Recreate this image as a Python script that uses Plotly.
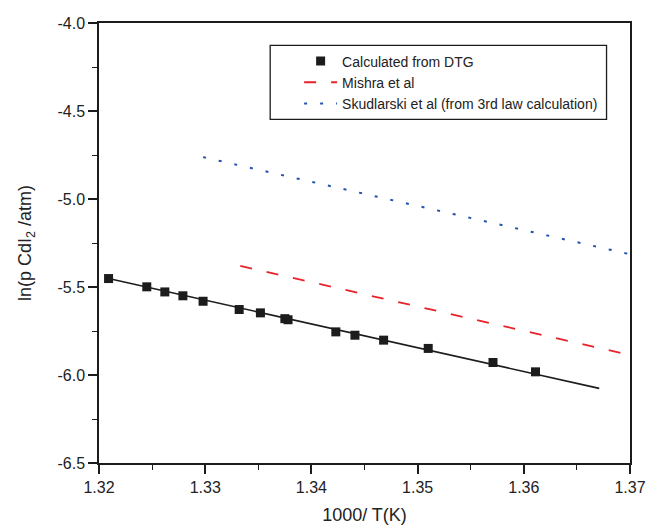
import plotly.graph_objects as go

# Calculated from DTG (points)
x_dtg = [1.3209, 1.3245, 1.3262, 1.3279, 1.3298, 1.3332, 1.3352, 1.3375, 1.3378,
         1.3423, 1.3441, 1.3468, 1.3510, 1.3571, 1.3611]
y_dtg = [-5.452, -5.499, -5.528, -5.550, -5.581, -5.628, -5.647, -5.680, -5.686,
         -5.755, -5.774, -5.802, -5.849, -5.929, -5.982]
x_fit = [1.3209, 1.3671]
y_fit = [-5.452, -6.076]
# Mishra et al
x_mishra = [1.3333, 1.3700]
y_mishra = [-5.380, -5.887]
# Skudlarski et al (3rd law)
x_skud = [1.3298, 1.3700]
y_skud = [-4.762, -5.314]

x_ticks = [1.32, 1.33, 1.34, 1.35, 1.36, 1.37]
y_ticks = [-4.0, -4.5, -5.0, -5.5, -6.0, -6.5]

FONT = "Liberation Sans, Arial, sans-serif"
INK = "#1c1c1c"

fig = go.Figure()
fig.add_trace(go.Scatter(x=x_fit, y=y_fit, mode="lines", showlegend=False,
                         line=dict(color=INK, width=1.6), hoverinfo="skip"))
fig.add_trace(go.Scatter(x=x_dtg, y=y_dtg, mode="markers", name="Calculated from DTG",
                         marker=dict(symbol="square", size=9, color=INK)))
fig.add_trace(go.Scatter(x=x_mishra, y=y_mishra, mode="lines", name="Mishra et al",
                         line=dict(color="#e8222a", width=1.8, dash="12px,15px")))
fig.add_trace(go.Scatter(x=x_skud, y=y_skud, mode="lines",
                         name="Skudlarski et al (from 3rd law calculation)",
                         line=dict(color="#2452b0", width=2, dash="3px,13px")))

axis_common = dict(showline=True, linecolor=INK, linewidth=1.5, mirror=True,
                   ticks="outside", ticklen=9, tickwidth=1.5, tickcolor=INK,
                   showgrid=False, zeroline=False, automargin=False,
                   tickfont=dict(family=FONT, size=16, color="#222"),
                   minor=dict(ticks="outside", ticklen=5, tickwidth=1.3, tickcolor=INK))

fig.update_xaxes(range=[1.32, 1.37], tickvals=x_ticks,
                 ticktext=[f"{v:.2f}" for v in x_ticks],
                 minor_dtick=0.005, minor_tick0=1.32,
                 title=dict(text="1000/ T(K)", font=dict(family=FONT, size=18, color="#222"),
                            standoff=13),
                 **axis_common)
fig.update_yaxes(range=[-6.5, -4.0], tickvals=y_ticks,
                 ticktext=[f"{v:.1f}" for v in y_ticks],
                 minor_dtick=0.25, minor_tick0=-4.0,
                 title=dict(text="ln(p CdI<sub>2</sub> /atm)",
                            font=dict(family=FONT, size=18, color="#222"), standoff=21),
                 **axis_common)

# legend frame
fig.add_shape(type="rect", xref="paper", yref="paper",
              x0=(270 - 98.5) / 532, x1=(607 - 98.5) / 532,
              y0=(463 - 119) / 440.5, y1=(463 - 45) / 440.5,
              line=dict(color=INK, width=1.3), fillcolor="rgba(0,0,0,0)", layer="above")

fig.update_layout(
    width=652, height=528,
    margin=dict(l=98.5, r=21.5, t=22.5, b=65, pad=0),
    paper_bgcolor="white", plot_bgcolor="white",
    font=dict(family=FONT, color="#222"),
    legend=dict(x=(299 - 98.5) / 532, y=0.949, xanchor="left", yanchor="top",
                bgcolor="rgba(0,0,0,0)", borderwidth=0,
                font=dict(family=FONT, size=14, color="#222"),
                itemwidth=33, tracegroupgap=0),
)

fig.write_html("out.html")
